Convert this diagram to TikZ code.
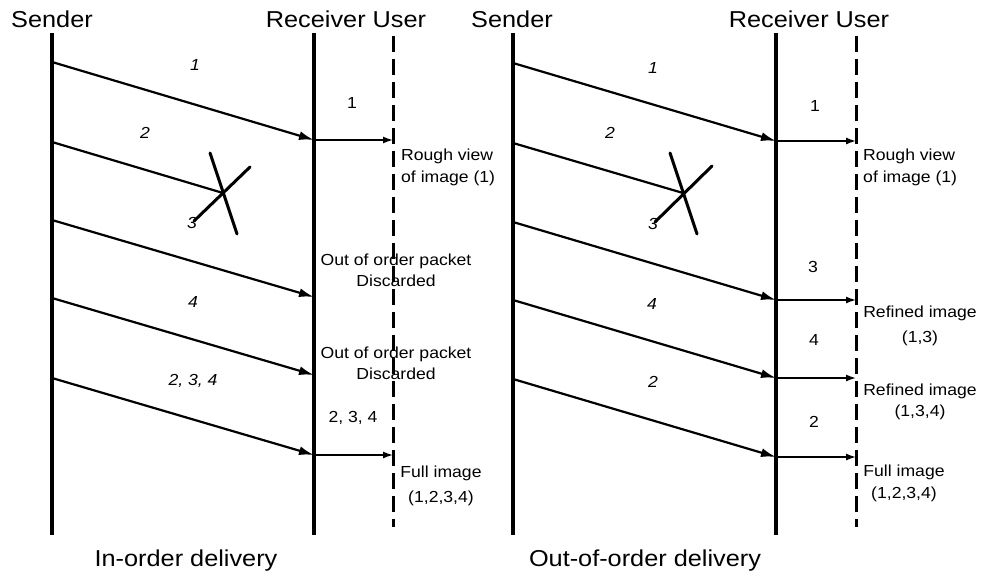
\documentclass[tikz,border=0pt]{standalone}
\usepackage{fontspec}
\setmainfont{Liberation Sans}[FakeStretch=1.1]
\usetikzlibrary{arrows.meta}
\begin{document}
\begin{tikzpicture}[x=1pt,y=-1pt,
  lifeline/.style={line width=3.5pt},
  userline/.style={line width=3pt, dash pattern=on 16pt off 7pt},
  msg/.style={line width=2.2pt,-{Latex[length=15pt,width=9pt]}},
  lost/.style={line width=2.2pt},
  cross/.style={line width=3pt, line cap=round},
  deliver/.style={line width=1.4pt,-{Latex[length=10pt,width=7pt]}},
  head/.style={font=\fontsize{23}{27}\selectfont, inner sep=0, anchor=base},
  pktnum/.style={font=\fontsize{16}{19}\selectfont\itshape, inner sep=0},
  bufnum/.style={font=\fontsize{16}{19}\selectfont, inner sep=0},
  note/.style={font=\fontsize{16}{22}\selectfont, inner sep=0, align=center, anchor=north},
]
\useasboundingbox (0,0) rectangle (981,575);

% ---------------- In-order delivery ----------------
\coordinate (LStop) at (52,33);   \coordinate (LSbot) at (52,535);
\coordinate (LRtop) at (314,33);  \coordinate (LRbot) at (314,535);
\coordinate (LUtop) at (393,36);  \coordinate (LUbot) at (393,527);
\draw[lifeline] (LStop) -- (LSbot);
\draw[lifeline] (LRtop) -- (LRbot);
\draw[userline] (LUtop) -- (LUbot);

\node[head] (LSname) at (52,28) {Sender};
\node[head] (LRname) at (346,28) {Receiver User};
\node[head] (Ltitle) at (186,566) {In-order delivery};

\coordinate (LS1) at (52,62);  \coordinate (LR1) at (314,140);
\coordinate (LS2) at (52,142); \coordinate (LX)  at (223,193);
\coordinate (LS3) at (52,220); \coordinate (LR3) at (314,297);
\coordinate (LS4) at (52,298); \coordinate (LR4) at (314,375);
\coordinate (LS5) at (52,378); \coordinate (LR5) at (314,455);
\coordinate (LU1) at (393,140); \coordinate (LU5) at (393,455);

\draw[msg] (LS1) -- (LR1);
\draw[lost] (LS2) -- (LX);
\draw[msg] (LS3) -- (LR3);
\draw[msg] (LS4) -- (LR4);
\draw[msg] (LS5) -- (LR5);
\draw[deliver] (LR1) -- (LU1);
\draw[deliver] (LR5) -- (LU5);

% lost packet
\coordinate (LXa1) at (210,153); \coordinate (LXa2) at (237,234);
\coordinate (LXb1) at (250,167); \coordinate (LXb2) at (194,221);
\draw[cross] (LXa1) -- (LXa2);
\draw[cross] (LXb1) -- (LXb2);

\node[pktnum] (Lp1) at (195,65) {1};
\node[pktnum] (Lp2) at (145,133) {2};
\node[pktnum] (Lp3) at (192,223) {3};
\node[pktnum] (Lp4) at (193,302) {4};
\node[pktnum] (Lp5) at (193,381) {2, 3, 4};

\node[bufnum] (Lb1) at (352,103) {1};
\node[bufnum] (Lb5) at (353,418) {2, 3, 4};

\node[note, align=left, anchor=north west] (Ln1) at (401,148.5) {Rough view\\of image (1)};
\node[note, font=\fontsize{16}{21}\selectfont] (Ln3) at (396,254) {Out of order packet\\Discarded};
\node[note, font=\fontsize{16}{21}\selectfont] (Ln4) at (396,347) {Out of order packet\\Discarded};
\node[note, font=\fontsize{16}{25}\selectfont] (Ln5) at (441,466) {Full image\\(1,2,3,4)};

% ---------------- Out-of-order delivery ----------------
\coordinate (RStop) at (513,33);  \coordinate (RSbot) at (513,535);
\coordinate (RRtop) at (776,33);  \coordinate (RRbot) at (776,535);
\coordinate (RUtop) at (856,36);  \coordinate (RUbot) at (856,527);
\draw[lifeline] (RStop) -- (RSbot);
\draw[lifeline] (RRtop) -- (RRbot);
\draw[userline] (RUtop) -- (RUbot);

\node[head] (RSname) at (512,28) {Sender};
\node[head] (RRname) at (809,28) {Receiver User};
\node[head] (Rtitle) at (645,566) {Out-of-order delivery};

\coordinate (RS1) at (513,63);  \coordinate (RR1) at (776,141);
\coordinate (RS2) at (513,143); \coordinate (RX)  at (683,193);
\coordinate (RS3) at (513,222); \coordinate (RR3) at (776,300);
\coordinate (RS4) at (513,300); \coordinate (RR4) at (776,378);
\coordinate (RS5) at (513,379); \coordinate (RR5) at (776,457);
\coordinate (RU1) at (856,141); \coordinate (RU3) at (856,300);
\coordinate (RU4) at (856,378); \coordinate (RU5) at (856,457);

\draw[msg] (RS1) -- (RR1);
\draw[lost] (RS2) -- (RX);
\draw[msg] (RS3) -- (RR3);
\draw[msg] (RS4) -- (RR4);
\draw[msg] (RS5) -- (RR5);
\draw[deliver] (RR1) -- (RU1);
\draw[deliver] (RR3) -- (RU3);
\draw[deliver] (RR4) -- (RU4);
\draw[deliver] (RR5) -- (RU5);

% lost packet
\coordinate (RXa1) at (670,153); \coordinate (RXa2) at (697,234);
\coordinate (RXb1) at (712,166); \coordinate (RXb2) at (655,222);
\draw[cross] (RXa1) -- (RXa2);
\draw[cross] (RXb1) -- (RXb2);

\node[pktnum] (Rp1) at (653,68) {1};
\node[pktnum] (Rp2) at (610,133) {2};
\node[pktnum] (Rp3) at (653,224) {3};
\node[pktnum] (Rp4) at (652,304) {4};
\node[pktnum] (Rp5) at (653,382) {2};

\node[bufnum] (Rb1) at (815,106) {1};
\node[bufnum] (Rb3) at (813,267) {3};
\node[bufnum] (Rb4) at (814,340) {4};
\node[bufnum] (Rb5) at (814,422) {2};

\node[note, align=left, anchor=north west] (Rn1) at (863,149) {Rough view\\of image (1)};
\node[note, font=\fontsize{16}{25}\selectfont] (Rn3) at (920,306) {Refined image\\(1,3)};
\node[note, font=\fontsize{16}{21}\selectfont] (Rn4) at (920,384) {Refined image\\(1,3,4)};
\node[note] (Rn5) at (904,465) {Full image\\(1,2,3,4)};
\end{tikzpicture}
\end{document}
